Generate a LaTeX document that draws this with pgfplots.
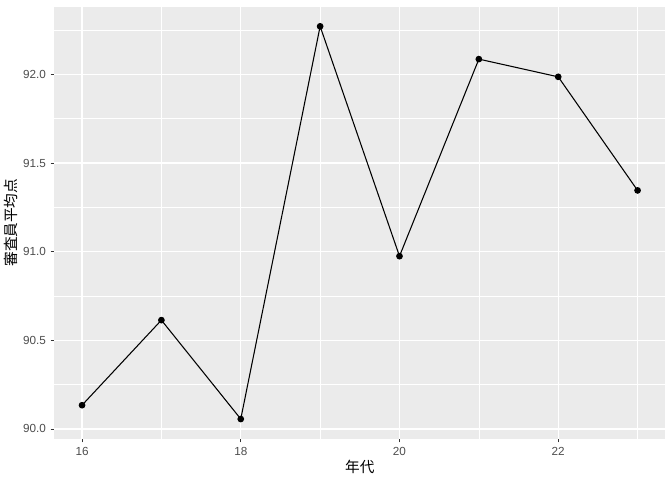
\documentclass[border=0pt]{standalone}
\usepackage{pgfplots}
\pgfplotsset{compat=1.18}
\usepackage{fontspec}
\setmainfont{Liberation Sans}
\newfontfamily\cjk{Noto Sans CJK JP}
\definecolor{panelbg}{HTML}{EBEBEB}
\definecolor{tickcol}{HTML}{4D4D4D}
\definecolor{tickline}{HTML}{333333}
\begin{document}
\begin{tikzpicture}
\begin{axis}[
  scale only axis,
  width=459pt, height=324.5pt,
  xmin=15.65, xmax=23.35,
  ymin=89.945, ymax=92.383,
  axis background/.style={fill=panelbg},
  axis line style={draw=none},
  xtick={16,18,20,22},
  ytick={90,90.5,91,91.5,92},
  minor xtick={17,19,21,23},
  minor ytick={90.25,90.75,91.25,91.75,92.25},
  grid=both,
  major grid style={white, line width=1.07pt},
  minor grid style={white, line width=0.53pt},
  tick align=outside,
  major tick length=2.75pt,
  minor tick length=0pt,
  tick style={tickline, line width=0.53pt},
  xtick pos=bottom, ytick pos=left,
  xticklabel style={font=\fontsize{8.8}{10}\selectfont, text=tickcol},
  yticklabel style={font=\fontsize{8.8}{10}\selectfont, text=tickcol},
  /pgf/number format/assume math mode=true,
  yticklabel={\pgfmathprintnumber[fixed,fixed zerofill,precision=1]{\tick}},
  xticklabel={\pgfmathprintnumber[fixed,precision=0]{\tick}},
  xlabel={\cjk 年代},
  ylabel={\cjk 審査員平均点},
  label style={font=\fontsize{11}{13}\selectfont},
  xlabel style={yshift=3pt},
  ylabel style={yshift=-3pt},
  clip=false,
]
\addplot[black, line width=0.8pt, mark=*, mark size=2.1pt] coordinates {
(16,90.134) (17,90.614) (18,90.056) (19,92.272) (20,90.975) (21,92.087) (22,91.987) (23,91.346)
};
\end{axis}
\path (current axis.south west) ++(-40pt,-30.5pt) coordinate (bl);
\path (current axis.north east) ++(5pt,5pt) coordinate (tr);
\path (bl) (tr);
\end{tikzpicture}
\end{document}
